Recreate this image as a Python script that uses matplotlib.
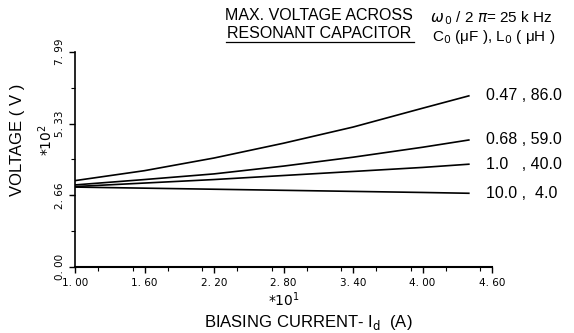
import matplotlib
matplotlib.use("Agg")
import matplotlib.pyplot as plt
import matplotlib.transforms as mtransforms
from matplotlib.ticker import MultipleLocator

current = [1.0, 1.6, 2.2, 2.8, 3.4, 4.0, 4.4]
v_047 = [3.21, 3.58, 4.05, 4.60, 5.20, 5.90, 6.36]
v_068 = [3.05, 3.25, 3.46, 3.75, 4.08, 4.45, 4.72]
v_100 = [2.99, 3.12, 3.25, 3.40, 3.55, 3.70, 3.82]
v_1000 = [2.97, 2.93, 2.89, 2.85, 2.81, 2.77, 2.74]
series_labels = ["0.47 , 86.0", "0.68 , 59.0", "1.0   , 40.0", "10.0 ,  4.0"]
xticks = [1.00, 1.60, 2.20, 2.80, 3.40, 4.00, 4.60]
xtick_labels = ["1. 00", "1. 60", "2. 20", "2. 80", "3. 40", "4. 00", "4. 60"]
yticks = [0.00, 2.66, 5.33, 7.99]
ytick_labels = ["0. 00", "2. 66", "5. 33", "7. 99"]

plt.rcParams['font.family'] = ['Liberation Sans', 'DejaVu Sans']

fig = plt.figure(figsize=(5.74, 3.33), dpi=100)
ax = fig.add_axes([75/574, 1-267/333, 417/574, 215/333])

for v in [v_047, v_068, v_100, v_1000]:
    ax.plot(current, v, color='black', lw=1.2)

ax.set_xlim(1.0, 4.6)
ax.set_ylim(0, 7.99)
ax.spines['top'].set_visible(False)
ax.spines['right'].set_visible(False)
ax.spines['left'].set_linewidth(1.2)
ax.spines['bottom'].set_linewidth(1.5)

ax.set_xticks(xticks)
ax.set_xticklabels(xtick_labels, fontsize=7.5, family='DejaVu Sans')
shift = mtransforms.ScaledTranslation(6/100, 0, fig.dpi_scale_trans)
for lbl in ax.get_xticklabels():
    lbl.set_transform(lbl.get_transform() + shift)
ax.xaxis.set_minor_locator(MultipleLocator(0.3))
ax.set_yticks(yticks)
ax.set_yticklabels(ytick_labels, fontsize=7.5, rotation=90, va='center', family='DejaVu Sans')
ax.yaxis.set_minor_locator(MultipleLocator(1.3325))
ax.tick_params(which='major', direction='out', length=4, width=1)
ax.tick_params(which='minor', direction='out', length=3, width=0.8)
ax.tick_params(axis='y', pad=3)
ax.tick_params(axis='x', pad=4)

# series labels
for v, lab in zip([v_047, v_068, v_100, v_1000], series_labels):
    ax.annotate(lab, xy=(current[-1], v[-1]), xytext=(12, 0), textcoords='offset points',
                fontsize=11.5, va='center', ha='left')

# header texts
fig.text(225/574, 1-15/333, "MAX. VOLTAGE ACROSS", fontsize=11.5, va='center', ha='left')
fig.text(227/574, 1-33/333, "RESONANT CAPACITOR", fontsize=11.5, va='center', ha='left')
fig.add_artist(plt.Line2D([226/574, 414/574], [1-42/333, 1-42/333], color='black', lw=0.9))
fig.text(430/574, 1-18/333, r"$\omega_{\,0}$ / 2 $\pi$= 25 k Hz", fontsize=11, va='center', ha='left')
fig.text(432/574, 1-37/333, "C$_0$ (μF ), L$_0$ ( μH )", fontsize=11, va='center', ha='left')

# axis labels
fig.text(18/574, 1-140/333, "VOLTAGE ( V )", fontsize=12, rotation=90, va='center', ha='center')
fig.text(46/574, 1-140/333, r"$*10^{2}$", fontsize=10, rotation=90, va='center', ha='center')
fig.text(284/574, 1-300/333, r"$*10^{1}$", fontsize=10, va='center', ha='center')
fig.text(308/574, 1-322/333, r"BIASING CURRENT- I$_\mathrm{d}$  (A)", fontsize=12, va='center', ha='center')

fig.savefig("out.png", dpi=100)
